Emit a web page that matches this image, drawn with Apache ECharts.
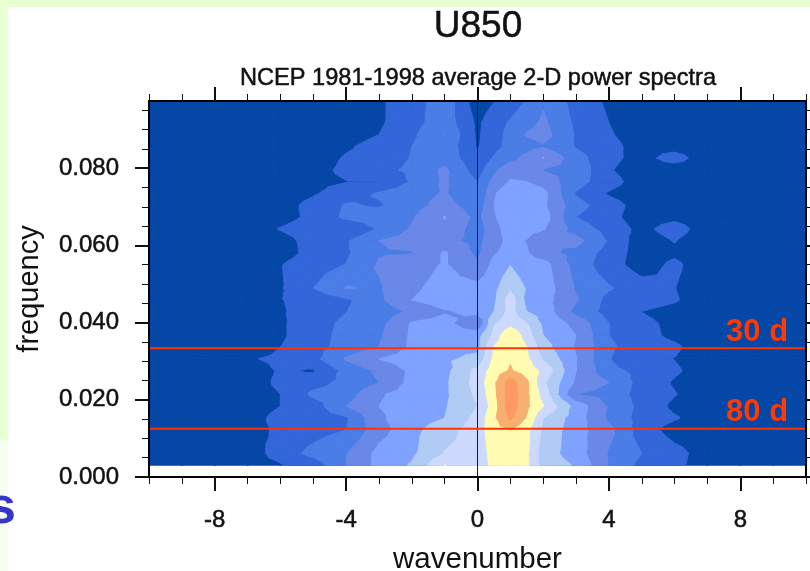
<!DOCTYPE html>
<html><head><meta charset="utf-8">
<style>html,body{margin:0;padding:0;background:#fff}#c{width:810px;height:571px}</style>
<script src="https://cdn.jsdelivr.net/npm/echarts@6/dist/echarts.min.js"></script>
</head><body><div id="c"></div>
<script>
const wavenumbers = [-10,-9,-8,-7,-6,-5,-4,-3,-2,-1,0,.5,1,1.5,2,3,4,5,6,7,8,9,10];
const freqStep = 0.00306;
const rowIndex = [1,2,4,5,6,7,8,9,10,11,12,13,14,15,16,18,19,20,21,22,23,24,25,26,27,28,29,30,32];
const p01=[.3,.3,.4,.5,.9,1.45,3.0,4.3,5.1,7.02,6.4,7.3,7.9,7.2,5.6,4.9,2.95,1.7,1.25,.5,.4,.3,.2];
const p02=[.2,.3,.4,.45,1.45,2.3,2.95,4.3,4.8,6.05,6.4,7.4,7.9,7.2,5.5,4.5,2.9,2.0,1.3,.6,.4,.3,.2];
const p04=[.2,.3,.4,.7,1.15,1.6,2.0,3.6,4.7,5.6,6.5,7.6,8.0,7.3,5.8,4.4,3.3,1.5,.6,.4,.3,.2,.2];
const p05=[.2,.3,.3,.6,1.3,1.6,1.85,3.85,4.5,5.0,6.3,7.8,9.2,7.9,6.0,4.5,2.8,1.6,1.1,.5,.3,.2,.2];
const p06=[.2,.3,.4,.5,1.0,1.5,3.0,4.0,4.4,4.9,6.0,7.5,9.6,8.2,7.05,4.6,2.9,1.7,.8,.4,.3,.2,.2];
const p07=[.2,.3,.3,.5,1.0,2.2,2.5,3.9,4.4,4.8,6.2,7.7,9.6,8.2,6.6,3.0,2.6,1.6,1.05,.4,.3,.2,.2];
const p08=[.2,.3,.3,.5,1.2,1.6,2.3,3.0,4.3,4.8,6.4,7.8,9.5,8.2,6.2,3.8,3.0,1.6,.9,.4,.3,.2,.2];
const p09=[.2,.3,.3,.5,1.1,.9,2.3,3.2,4.2,4.7,6.3,7.5,8.1,7.5,6.8,4.0,2.3,1.7,1.15,.5,.3,.2,.2];
const p10=[.2,.3,.3,.9,1.2,1.7,3.1,4.0,4.5,4.8,5.3,7.2,7.9,7.2,5.9,4.05,2.05,1.02,.98,.4,.3,.2,.2];
const p11=[.2,.3,.3,.4,1.0,1.6,2.4,3.0,4.2,4.7,4.7,7.05,7.95,7.0,5.4,3.9,2.2,1.4,1.15,.5,.3,.2,.2];
const p12=[.2,.3,.3,.5,.85,1.6,2.3,2.85,4.15,4.5,4.6,6.3,7.95,6.5,5.0,4.0,2.0,1.3,.8,.4,.3,.2,.2];
const p13=[.2,.3,.3,.4,.85,1.6,2.2,2.7,4.1,4.4,3.0,5.9,6.6,6.05,4.8,3.7,2.0,1.2,.8,.4,.3,.2,.2];
const p14=[.2,.3,.3,.45,.9,1.4,1.98,2.4,3.2,3.9,4.3,5.0,6.4,5.0,4.6,2.7,1.6,.99,.7,.4,.3,.2,.2];
const p15=[.2,.3,.3,.5,.95,1.4,1.85,2.8,4.0,4.5,4.3,4.8,6.5,4.7,4.4,3.1,1.7,1.4,1.1,.4,.3,.2,.2];
const p16=[.2,.3,.3,.5,.9,2.0,3.05,2.9,3.8,4.4,4.3,4.7,5.8,4.9,4.6,2.9,2.1,1.4,1.02,.4,.3,.2,.2];
const p18=[.2,.3,.3,.5,.95,1.5,2.02,3.1,3.5,4.1,3.1,4.3,4.95,4.3,4.4,2.6,1.4,.55,1.2,.4,.3,.2,.2];
const p19=[.2,.2,.3,.3,.6,1.3,1.85,2.9,2.95,4.1,2.8,3.9,4.3,4.1,3.3,2.7,1.6,.5,.8,.3,.2,.2,.2];
const p20=[.2,.2,.3,.4,.7,1.3,1.9,3.0,3.4,3.3,2.7,3.6,4.3,3.95,3.0,3.35,1.9,.4,1.05,.3,.2,.2,.2];
const p21=[.2,.2,.3,.5,1.05,1.4,.98,2.1,3.1,3.8,2.5,3.6,4.5,4.4,4.1,2.6,1.6,.7,1.5,.4,.2,.2,.2];
const p22=[.2,.2,.3,.4,.7,1.2,2.2,2.5,2.9,4.05,2.7,3.9,4.7,4.7,4.5,2.0,1.3,.5,.7,.3,.2,.2,.2];
const p23=[.2,.2,.2,.3,.6,1.3,2.1,1.9,2.6,3.4,2.4,4.0,4.6,4.6,4.2,2.4,1.4,.6,.4,.3,.2,.2,.2];
const p24=[.2,.2,.2,.3,.5,.9,1.5,2.1,2.6,3.1,2.0,3.9,4.7,4.7,4.3,1.9,.9,.4,.3,.2,.2,.2,.2];
const p25=[.2,.2,.2,.2,.35,.75,.97,.98,2.1,3.15,2.0,3.3,4.1,4.0,3.6,2.4,1.4,.5,.3,.2,.2,.2,.2];
const p26=[.2,.2,.2,.2,.3,.7,1.2,1.7,2.2,3.2,1.5,2.8,3.6,3.5,2.95,2.7,1.1,.4,.3,.2,.2,.2,.2];
const p27=[.2,.2,.2,.2,.3,.5,1.1,1.4,2.05,2.6,1.3,2.1,2.7,3.3,4.05,2.4,1.3,.6,1.5,.3,.2,.2,.2];
const p28=[.2,.2,.2,.2,.2,.4,.85,1.4,2.0,2.7,.9,1.7,2.3,2.6,2.9,1.9,1.3,.6,.5,.2,.2,.2,.2];
const p29=[.2,.2,.2,.2,.2,.3,.5,1.0,1.8,3.02,.85,1.6,2.3,3.1,3.4,1.9,1.1,.5,.3,.2,.2,.2,.2];
const p30=[.2,.2,.2,.2,.2,.3,.3,.85,1.6,2.6,.8,1.6,2.1,2.6,3.2,1.8,1.0,.4,.3,.2,.2,.2,.2];
const p32=[.2,.2,.2,.2,.2,.2,.3,.85,1.5,2.6,.4,.9,1.5,2.0,2.8,1.6,.8,.4,.3,.2,.2,.2,.2];
const powerRows=[p01,p02,p04,p05,p06,p07,p08,p09,p10,p11,p12,p13,p14,p15,p16,p18,p19,p20,p21,p22,p23,p24,p25,p26,p27,p28,p29,p30,p32];
const frequencies = rowIndex.map(h=>h*freqStep);
const levels=[0,1,2,3,4,5,6,7,8,9];
const levelColors=['#0547A6','#3366D9','#4A7DE6','#6A88E8','#7FA2FF','#B0CCF5','#CDD9FF','#FFFBB0','#F8B070','#FF9966'];
const refPeriods=[30,80];
const refFreqs=refPeriods.map(d=>1/d);
const xMajor=[-8,-4,0,4,8];
const xAll=[-10,-9,-8,-7,-6,-5,-4,-3,-2,-1,0,1,2,3,4,5,6,7,8,9,10];
const yMajor=[0,0.02,0.04,0.06,0.08];
const yAll=[0,.005,.01,.015,.02,.025,.03,.035,.04,.045,.05,.055,.06,.065,.07,.075,.08,.085,.09,.095];
const FONT='"Liberation Sans",Arial,sans-serif';
const INK={textBorderColor:'#111',textBorderWidth:0.5};

function clipTri(tri,L){
  const out=[];
  for(let i=0;i<tri.length;i++){
    const a=tri[i],b=tri[(i+1)%tri.length];
    if(a[2]>=L) out.push(a);
    if((a[2]>=L)!==(b[2]>=L)){
      const t=(L-a[2])/(b[2]-a[2]);
      out.push([a[0]+t*(b[0]-a[0]),a[1]+t*(b[1]-a[1]),L]);
    }
  }
  return out;
}
function renderBand(params,api){
  const L=api.value(0);
  const children=[];
  for(let r=0;r<frequencies.length-1;r++){
    for(let c=0;c<wavenumbers.length-1;c++){
      const n=[[c,r],[c+1,r],[c+1,r+1],[c,r+1]].map(([i,j])=>{
        const pt=api.coord([wavenumbers[i],frequencies[j]]);
        return [pt[0],pt[1],powerRows[j][i]];
      });
      const m=[0,1,2].map(k=>(n[0][k]+n[1][k]+n[2][k]+n[3][k])/4);
      for(let k=0;k<4;k++){
        const poly=clipTri([n[k],n[(k+1)%4],m],L);
        if(poly.length>2){
          children.push({type:'polygon',shape:{points:poly.map(p=>[p[0],p[1]])},
            style:{fill:levelColors[L],stroke:levelColors[L],lineWidth:1,lineJoin:'round'},silent:true});
        }
      }
    }
  }
  return {type:'group',children};
}

const YMAX=0.0974;
function xAx(pos,vals,len,extra){return Object.assign({type:'value',position:pos,min:-10,max:10,z:5,
  axisLine:{onZero:false,lineStyle:{color:'#000',width:2}},splitLine:{show:false},
  axisTick:{show:true,inside:false,length:len,customValues:vals,lineStyle:{color:'#111',width:len>8?2:1}},
  axisLabel:{show:false}},extra||{});}
function yAx(pos,vals,len,extra){return Object.assign({type:'value',position:pos,min:0,max:YMAX,z:5,
  axisLine:{onZero:false,lineStyle:{color:'#000',width:2}},splitLine:{show:false},
  axisTick:{show:true,inside:false,length:len,customValues:vals,lineStyle:{color:'#111',width:len>8?2:1}},
  axisLabel:{show:false}},extra||{});}

const chart=echarts.init(document.getElementById('c'),null,{renderer:'canvas'});
chart.setOption({
  animation:false,backgroundColor:'#fff',
  title:[
    {text:'U850',left:473,top:3,textAlign:'center',textStyle:{fontFamily:FONT,fontSize:37,fontWeight:'normal',color:'#111',...INK}},
    {text:'NCEP 1981-1998 average 2-D power spectra',left:473,top:61,textAlign:'center',textStyle:{fontFamily:FONT,fontSize:23.6,fontWeight:'normal',color:'#111',...INK}}
  ],
  graphic:[
    {type:'rect',shape:{x:0,y:0,width:810,height:7},style:{fill:'#E8FFD2'},z:-1,silent:true},
    {type:'rect',shape:{x:0,y:0,width:8,height:440},style:{fill:'#E8FFD2'},z:-1,silent:true},
    {type:'rect',shape:{x:0,y:440,width:8,height:131},style:{fill:'#F8FFF0'},z:-1,silent:true},
    {type:'text',left:-13,top:483,style:{text:'s',font:'bold 52px '+FONT,fill:'#3535CC'},z:1,silent:true}
  ],
  grid:{left:149,top:101,width:657,height:376,containLabel:false,outerBoundsMode:'none'},
  xAxis:[
    xAx('bottom',xAll,7),
    xAx('bottom',xMajor,14,{
      name:'wavenumber',nameLocation:'middle',nameGap:83,
      nameTextStyle:{fontFamily:FONT,fontSize:29.5,color:'#111',verticalAlign:'middle'},
      axisLabel:{show:true,customValues:xMajor,margin:31,fontFamily:FONT,fontSize:24,color:'#111',hideOverlap:false,...INK}}),
    xAx('top',xAll,7),
    xAx('top',xMajor,14)
  ],
  yAxis:[
    yAx('left',yAll,7),
    yAx('left',yMajor,14,{
      name:'frequency',nameLocation:'middle',nameGap:119,
      nameTextStyle:{fontFamily:FONT,fontSize:29,color:'#111',verticalAlign:'middle'},
      axisLabel:{show:true,customValues:yMajor,margin:30,fontFamily:FONT,fontSize:24,color:'#111',...INK,padding:[8,0,0,0],
        formatter:v=>Number(v).toFixed(3)}}),
    yAx('right',yAll,7),
    yAx('right',yMajor,14)
  ],
  series:[
    {type:'custom',coordinateSystem:'cartesian2d',xAxisIndex:0,yAxisIndex:0,clip:true,z:1,silent:true,
      data:levels.map(l=>[l]),renderItem:renderBand,encode:{x:[],y:[]}},
    {type:'line',xAxisIndex:0,yAxisIndex:0,z:2,symbol:'none',silent:true,
      data:[[0,0],[0,YMAX]],lineStyle:{color:'#0a1a40',width:1}},
    ...refFreqs.map((f,i)=>({type:'line',xAxisIndex:0,yAxisIndex:0,z:3,symbol:'none',silent:true,clip:false,
      data:[[-10,f],[10.12,f]],lineStyle:{color:'#FF3300',width:2}})),
    {type:'scatter',xAxisIndex:0,yAxisIndex:0,z:4,silent:true,symbolSize:1,itemStyle:{color:'transparent',opacity:1},
      data:refFreqs.map((f,i)=>({value:[8.51,f],name:refPeriods[i]+' d'})),
      label:{show:true,position:'top',distance:0,formatter:'{b}',fontFamily:FONT,fontWeight:'bold',fontSize:31,color:'#FF3A00'}}
  ]
});
</script></body></html>
